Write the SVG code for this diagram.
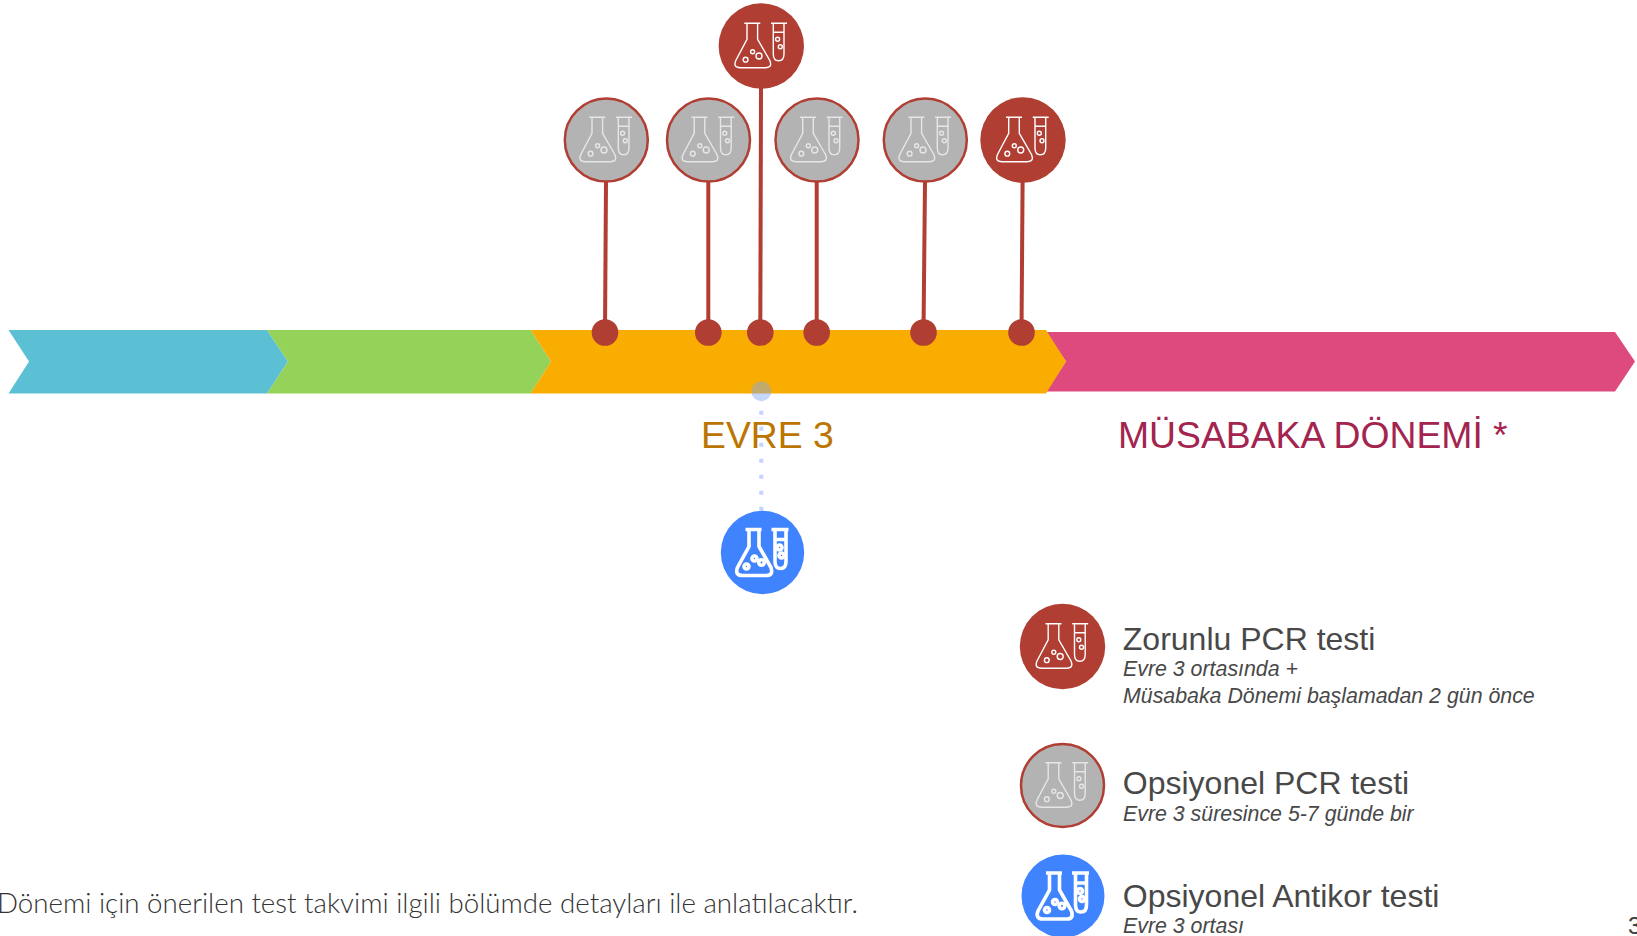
<svg xmlns="http://www.w3.org/2000/svg" width="1637" height="936" viewBox="0 0 1637 936">
<style>
text{font-family:"Liberation Sans",Arial,sans-serif}
.ph{font-size:37.3px}
.t{font-size:32px;fill:#484848}
.s{font-size:21.35px;font-style:italic;fill:#484848}
.c{stroke:#B03E33;stroke-width:4;fill:none}
.d{fill:#B03E33}
.r{fill:#B03E33}
.g{fill:#B3B3B3;stroke:#B03E33;stroke-width:2.5}
.b{fill:#3F83FF}
.i{fill:none;stroke:#fff;stroke-width:1.4}
.ig{fill:none;stroke:#E6E6E6;stroke-width:1.4}
.ib{fill:none;stroke:#fff;stroke-width:3.6}
</style>
<defs>
<g id="ic">
<path d="M-17-22.7H-1M-14.3-22.7V-6.7L-25.5 14.5Q-28.5 21.7-21 21.7H4Q11.5 21.7 8.5 14.5L-3.7-6.7V-22.7M9.7-22.7H25.7M12-22.7V8Q12 14.7 17.3 14.7Q22.7 14.7 22.7 8V-22.7M12-13.7H22.7"/>
<circle cx="16.3" cy="-6.7" r="2"/><circle cx="19" cy=".7" r="2"/>
<circle cx="-15.7" cy="13.7" r="2.4"/><circle cx="-8.7" cy="5.7" r="2"/><circle cx="-2.3" cy="10" r="3"/>
</g>
<g id="icb">
<path d="M-17-23H-1M-13.5-23V-6L-25 15Q-28 23-20 23H4Q11 23 8.5 15L-3.5-6V-23M9-23H26M12.5-23V9Q12.5 16 18 16Q23.5 16 23.5 9V-23M12.5-13H23.5"/>
<circle cx="-16" cy="14" r="2.5"/><circle cx="-8" cy="6" r="2.5"/><circle cx="-1" cy="10" r="2.8"/>
<circle cx="17" cy="-5" r="2.5"/><circle cx="19" cy="3" r="2.5"/>
</g>
</defs>
<g id="timeline">
<polygon points="8.5,330 267,330 288,361.5 267,393.5 8.5,393.5 29,361.5" fill="#5BC0D3"/>
<polygon points="267,330 530.5,330 551,361.5 530.5,393.5 267,393.5 288,361.5" fill="#95D259"/>
<polygon points="1046,332 1615,332 1635,361.5 1615,391.5 1046,391.5 1066,361.5" fill="#DE4A7E"/>
<polygon points="530.5,330 1046,330 1066,361.5 1046,393.5 530.5,393.5 551,361.5" fill="#F8AD00"/>
</g>
<g id="connectors">
<line class="c" x1="606" y1="182" x2="605" y2="332"/>
<line class="c" x1="708.3" y1="182" x2="708.3" y2="332"/>
<line class="c" x1="761" y1="88" x2="760.3" y2="332"/>
<line class="c" x1="816.7" y1="182" x2="816.7" y2="332"/>
<line class="c" x1="925" y1="182" x2="923.5" y2="332"/>
<line class="c" x1="1022.6" y1="182" x2="1021.5" y2="332"/>
<line x1="761.3" y1="410.7" x2="761.3" y2="512" stroke="#C2D4FF" stroke-width="4" stroke-dasharray="4 12"/>
<circle class="d" cx="605" cy="332.5" r="13.3"/>
<circle class="d" cx="708.3" cy="332.5" r="13.3"/>
<circle class="d" cx="760.3" cy="332.5" r="13.3"/>
<circle class="d" cx="816.7" cy="332.5" r="13.3"/>
<circle class="d" cx="923.5" cy="332.5" r="13.3"/>
<circle class="d" cx="1021.5" cy="332.5" r="13.3"/>
<circle cx="761.3" cy="391.3" r="10" fill="#7FA6F5" fill-opacity=".45"/>
</g>
<g id="node-1"><circle class="g" cx="606.3" cy="140" r="41.5"/><use href="#ic" class="ig" x="606.3" y="140"/></g>
<g id="node-2"><circle class="g" cx="708.5" cy="140" r="41.5"/><use href="#ic" class="ig" x="708.5" y="140"/></g>
<g id="node-3"><circle class="r" cx="761.3" cy="46" r="42.7"/><use href="#ic" class="i" x="761.3" y="46"/></g>
<g id="node-4"><circle class="g" cx="817" cy="140" r="41.5"/><use href="#ic" class="ig" x="817" y="140"/></g>
<g id="node-5"><circle class="g" cx="925.3" cy="140" r="41.5"/><use href="#ic" class="ig" x="925.3" y="140"/></g>
<g id="node-6"><circle class="r" cx="1023" cy="140" r="42.7"/><use href="#ic" class="i" x="1023" y="140"/></g>
<g id="node-7"><circle class="b" cx="762.5" cy="552.5" r="41.7"/><use href="#icb" class="ib" x="762.5" y="552.5"/></g>
<g id="label-evre"><text class="ph" x="701" y="448" fill="#BB7500">EVRE 3</text></g>
<g id="label-musabaka"><text class="ph" x="1118" y="448" fill="#A3254F">MÜSABAKA DÖNEMİ *</text></g>
<g id="legend-1"><circle class="r" cx="1062.5" cy="646.5" r="42.7"/><use href="#ic" class="i" x="1062.5" y="646.5"/>
<text class="t" x="1122.8" y="650">Zorunlu PCR testi</text>
<text class="s" x="1123" y="676">Evre 3 ortasında +</text>
<text class="s" x="1123" y="703">Müsabaka Dönemi başlamadan 2 gün önce</text></g>
<g id="legend-2"><circle class="g" cx="1062.5" cy="785.5" r="41.5"/><use href="#ic" class="ig" x="1062.5" y="785.5"/>
<text class="t" x="1122.8" y="794">Opsiyonel PCR testi</text>
<text class="s" x="1123" y="821">Evre 3 süresince 5-7 günde bir</text></g>
<g id="legend-3"><circle class="b" cx="1063" cy="896" r="41.5"/><use href="#icb" class="ib" x="1063" y="896"/>
<text class="t" x="1122.8" y="907">Opsiyonel Antikor testi</text>
<text class="s" x="1123" y="933">Evre 3 ortası</text></g>
<text x="-3" y="913" font-size="27.7" fill="#333333" style="font-family:Lato,'Open Sans',sans-serif;font-weight:300">Dönemi için önerilen test takvimi ilgili bölümde detayları ile anlatılacaktır.</text>
<text x="1628" y="934" font-size="24" fill="#404040">3</text>
</svg>
